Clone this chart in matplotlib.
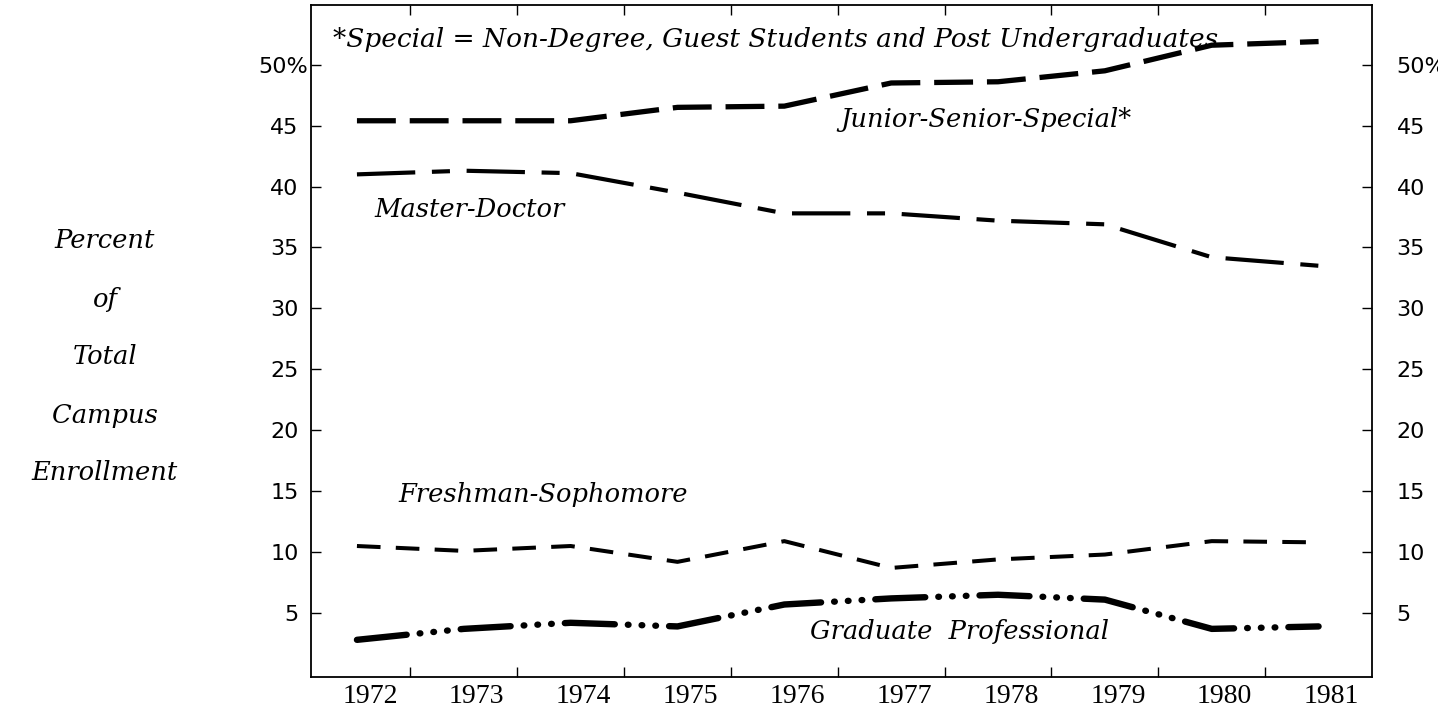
"""
Enrollment by level as percent of total campus enrollment, 1972-1981.
Four dashed/dotted lines with inline labels, ticks on all four sides.
"""

import numpy as np
import matplotlib.pyplot as plt
import matplotlib.transforms as mtransforms

plt.rcParams.update({
    "lines.scale_dashes": False,
    "font.family": "DejaVu Sans",
})

YEARS = [1972, 1973, 1974, 1975, 1976, 1977, 1978, 1979, 1980, 1981]

JUNIOR_SENIOR_SPECIAL = [45.4, 45.4, 45.4, 46.5, 46.6, 48.5, 48.6, 49.5, 51.6, 51.9]
MASTER_DOCTOR = [41.0, 41.3, 41.1, 39.5, 37.8, 37.8, 37.2, 36.9, 34.2, 33.5]
FRESHMAN_SOPHOMORE = [10.5, 10.1, 10.5, 9.2, 10.9, 8.7, 9.4, 9.8, 10.9, 10.8]
GRADUATE_PROFESSIONAL = [2.8, 3.7, 4.2, 3.9, 5.7, 6.2, 6.5, 6.1, 3.7, 3.9]

Y_TICKS = [5, 10, 15, 20, 25, 30, 35, 40, 45, 50]
Y_TICK_LABELS = ["5", "10", "15", "20", "25", "30", "35", "40", "45", "50%"]

YLABEL_LINES = ["Percent", "of", "Total", "Campus", "Enrollment"]
FOOTNOTE = "*Special = Non-Degree, Guest Students and Post Undergraduates"

ITALIC = dict(family="DejaVu Serif", style="italic", fontsize=18.5)


def plot():
    fig = plt.figure(figsize=(14.38, 7.10), dpi=100)
    ax = fig.add_axes([311 / 1438, 1 - 677 / 710, 1061 / 1438, 672 / 710])

    ax.plot(YEARS, JUNIOR_SENIOR_SPECIAL, color="black", lw=3.8,
            dashes=[28, 10])
    ax.plot(YEARS, MASTER_DOCTOR, color="black", lw=3.0,
            dashes=[42, 12, 13, 12])
    ax.plot(YEARS, FRESHMAN_SOPHOMORE, color="black", lw=2.9,
            dashes=[17, 11])
    ax.plot(YEARS, GRADUATE_PROFESSIONAL, color="black", lw=4.6,
            dashes=[36, 9.4, 0.5, 9.4, 0.5, 9.4, 0.5, 9.4],
            dash_capstyle="round")

    ax.set_xlim(1971.57, 1981.5)
    ax.set_ylim(-0.25, 54.9)

    # year labels sit a little right of the data points, tick marks between years
    ax.set_xticks(YEARS)
    ax.set_xticklabels([str(y) for y in YEARS], family="Liberation Serif",
                       fontsize=20)
    ax.set_xticks(np.array(YEARS[:-1]) + 0.5, minor=True)
    ax.tick_params(axis="x", which="major", length=0, pad=5)
    ax.tick_params(axis="x", which="minor", direction="in", length=7,
                   width=1, top=True, bottom=True)
    shift = mtransforms.ScaledTranslation(0.13, 0, fig.dpi_scale_trans)
    for lbl in ax.get_xticklabels():
        lbl.set_transform(lbl.get_transform() + shift)

    ax.set_yticks(Y_TICKS)
    ax.set_yticklabels(Y_TICK_LABELS, fontsize=16)
    ax.tick_params(axis="y", direction="in", length=7, width=1, pad=9,
                   left=True, right=True, labelleft=True, labelright=True)
    right_shift = mtransforms.ScaledTranslation(0.12, 0, fig.dpi_scale_trans)
    pct_shift = mtransforms.ScaledTranslation(0.10, 0, fig.dpi_scale_trans)
    ticks = ax.yaxis.get_major_ticks()
    for tick in ticks:
        tick.label2.set_transform(tick.label2.get_transform() + right_shift)
    # "%" of the top label hangs over toward the frame on the left
    ticks[-1].label1.set_transform(ticks[-1].label1.get_transform() + pct_shift)

    for side in ["left", "right", "top", "bottom"]:
        ax.spines[side].set_linewidth(1.3)

    # inline series labels
    ax.text(1971.78, 52.05, FOOTNOTE, ha="left", va="center",
            **{**ITALIC, "fontsize": 19})
    ax.text(1976.52, 45.5, "Junior-Senior-Special*", ha="left", va="center", **ITALIC)
    ax.text(1972.16, 38.1, "Master-Doctor", ha="left", va="center", **ITALIC)
    ax.text(1972.39, 14.7, "Freshman-Sophomore", ha="left", va="center", **ITALIC)
    ax.text(1976.24, 3.45, "Graduate  Professional", ha="left", va="center", **ITALIC)

    # stacked y-axis title
    for i, line in enumerate(YLABEL_LINES):
        fig.text(105 / 1438, 1 - (241 + 58 * i) / 710, line,
                 ha="center", va="center", **ITALIC)

    fig.savefig("out.png", dpi=100)


if __name__ == "__main__":
    plot()
